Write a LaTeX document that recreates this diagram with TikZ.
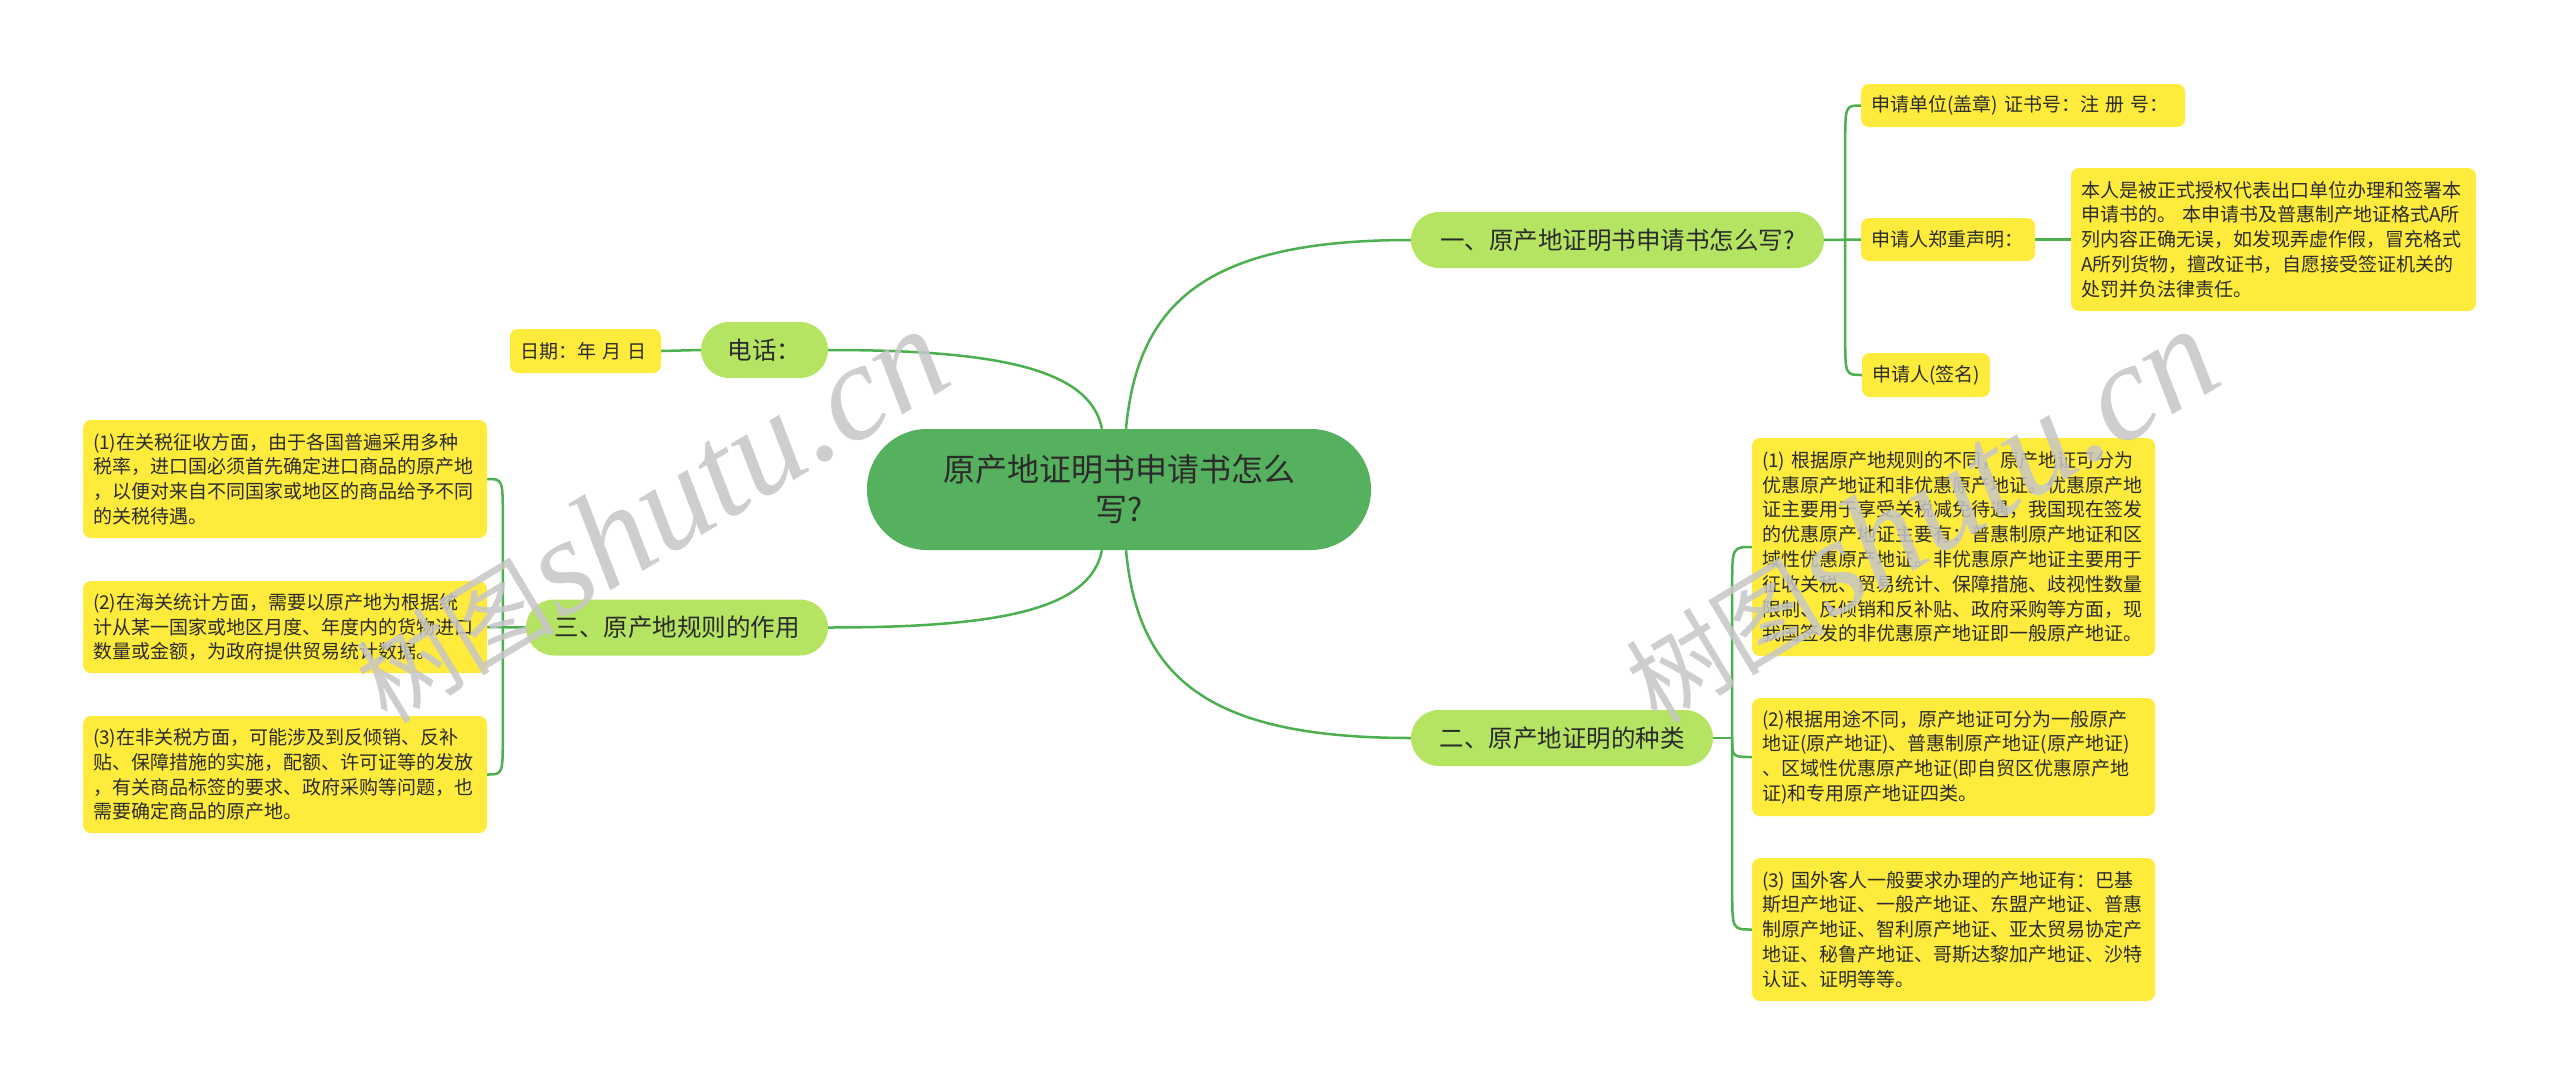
\documentclass[tikz,border=0pt]{standalone}
\usepackage{fontspec}
\setmainfont{Noto Sans CJK SC}
\newfontfamily\wmlatin{Liberation Serif Italic}
\usetikzlibrary{calc}
\definecolor{cgreen}{HTML}{55B15D}
\definecolor{bgreen}{HTML}{B5E462}
\definecolor{lyellow}{HTML}{FFEB3B}
\definecolor{lnk}{HTML}{4CAF50}
\definecolor{txt}{HTML}{2B2B2B}
\definecolor{wmgray}{HTML}{C6C6C6}
\pgfdeclarelayer{back}
\pgfdeclarelayer{bg}
\pgfsetlayers{back,bg,main}
\begin{document}
\begin{tikzpicture}[x=1pt,y=-1pt,
  centernode/.style={fill=cgreen, rounded corners=60pt, minimum width=504pt, minimum height=121pt, align=center, font=\fontsize{32}{40}\selectfont, text=txt, inner sep=0pt},
  branchnode/.style={fill=bgreen, rounded corners=28pt, minimum height=56pt, font=\fontsize{24.5}{30}\selectfont, text=txt, inner sep=0pt},
  leafnode/.style={fill=lyellow, rounded corners=8pt, align=left, font=\fontsize{19}{24.8}\selectfont, text=txt, inner xsep=10pt, inner ysep=0pt},
  conn/.style={draw=lnk, line width=2.5pt},
  wmark/.style={rotate=31, text=wmgray, text opacity=0.85, inner sep=0pt},
]
\begin{pgfonlayer}{back}
\fill[white] (0,0) rectangle (2560,1084);
\end{pgfonlayer}
\useasboundingbox (0,0) rectangle (2560,1084);

% central and main branches
\node[centernode] (c) at (1119,489.5) {原产地证明书申请书怎么\\写?};
\node[branchnode, minimum width=413pt] (b1) at (1617.5,240) {一、原产地证明书申请书怎么写?};
\node[branchnode, minimum width=302pt] (b2) at (1562,738) {二、原产地证明的种类};
\node[branchnode, minimum width=302pt] (b3) at (677,627.5) {三、原产地规则的作用};
\node[branchnode, minimum width=127pt] (b4) at (764.5,350) {电话：};

% leaves
\node[leafnode, text width=131pt, minimum height=44pt] (d) at (585.5,351) {日期：年 月 日};

\node[leafnode, text width=304pt, minimum height=43pt] (r1a) at (2023,105.5) {申请单位(盖章) 证书号：注 册 号：};
\node[leafnode, text width=154pt, minimum height=43pt] (r1b) at (1948,239.5) {申请人郑重声明：};
\node[leafnode, text width=385pt, minimum height=143pt] (r1c) at (2273.5,239.5) {本人是被正式授权代表出口单位办理和签署本\\申请书的。 本申请书及普惠制产地证格式A所\\列内容正确无误，如发现弄虚作假，冒充格式\\A所列货物，擅改证书，自愿接受签证机关的\\处罚并负法律责任。};
\node[leafnode, text width=108pt, minimum height=44pt] (r1d) at (1926,375) {申请人(签名)};

\node[leafnode, text width=383pt, minimum height=218pt] (r2a) at (1953.5,547) {(1) 根据原产地规则的不同，原产地证可分为\\优惠原产地证和非优惠原产地证。优惠原产地\\证主要用于享受关税减免待遇，我国现在签发\\的优惠原产地证主要有：普惠制原产地证和区\\域性优惠原产地证。非优惠原产地证主要用于\\征收关税、贸易统计、保障措施、歧视性数量\\限制、反倾销和反补贴、政府采购等方面，现\\我国签发的非优惠原产地证即一般原产地证。};
\node[leafnode, text width=383pt, minimum height=118pt] (r2b) at (1953.5,757) {(2)根据用途不同，原产地证可分为一般原产\\地证(原产地证)、普惠制原产地证(原产地证)\\、区域性优惠原产地证(即自贸区优惠原产地\\证)和专用原产地证四类。};
\node[leafnode, text width=383pt, minimum height=143pt] (r2c) at (1953.5,929.5) {(3) 国外客人一般要求办理的产地证有：巴基\\斯坦产地证、一般产地证、东盟产地证、普惠\\制原产地证、智利原产地证、亚太贸易协定产\\地证、秘鲁产地证、哥斯达黎加产地证、沙特\\认证、证明等等。};

\node[leafnode, text width=384pt, minimum height=118pt] (l3a) at (285,479) {(1)在关税征收方面，由于各国普遍采用多种\\税率，进口国必须首先确定进口商品的原产地\\，以便对来自不同国家或地区的商品给予不同\\的关税待遇。};
\node[leafnode, text width=384pt, minimum height=92pt] (l3b) at (285,627) {(2)在海关统计方面，需要以原产地为根据统\\计从某一国家或地区月度、年度内的货物进口\\数量或金额，为政府提供贸易统计数据。};
\node[leafnode, text width=384pt, minimum height=117pt] (l3c) at (285,774.5) {(3)在非关税方面，可能涉及到反倾销、反补\\贴、保障措施的实施，配额、许可证等的发放\\，有关商品标签的要求、政府采购等问题，也\\需要确定商品的原产地。};

\begin{pgfonlayer}{bg}
% center to branches
\draw[conn] ($(c.north)+(7,0)$) .. controls +(12,-130) and +(-200,0) .. (b1.west);
\draw[conn] ($(c.north)+(-17,0)$) .. controls +(-12,-60) and +(170,0) .. (b4.east);
\draw[conn] ($(c.south)+(-17,0)$) .. controls +(-12,60) and +(170,0) .. (b3.east);
\draw[conn] ($(c.south)+(7,0)$) .. controls +(12,130) and +(-200,0) .. (b2.west);
% branch 1
\coordinate (s1) at ($(b1.east)+(21,0)$);
\draw[conn] (b1.east) -- (r1b.west);
\draw[conn] (s1) -- ($(s1|-r1a.west)+(0,40)$) .. controls (s1|-r1a.west) .. (r1a.west);
\draw[conn] (s1) -- ($(s1|-r1d.west)+(0,-40)$) .. controls (s1|-r1d.west) .. (r1d.west);
\draw[conn] (r1b.east) -- (r1c.west);
% branch 2
\coordinate (s2) at ($(b2.east)+(19,0)$);
\draw[conn] (b2.east) -- (s2);
\draw[conn] (s2) -- ($(s2|-r2a.west)+(0,40)$) .. controls (s2|-r2a.west) .. (r2a.west);
\draw[conn] (s2) .. controls (s2|-r2b.west) .. (r2b.west);
\draw[conn] (s2) -- ($(s2|-r2c.west)+(0,-40)$) .. controls (s2|-r2c.west) .. (r2c.west);
% branch 3
\coordinate (s3) at ($(b3.west)+(-23,0)$);
\draw[conn] (b3.west) -- (l3b.east);
\draw[conn] (s3) -- ($(s3|-l3a.east)+(0,40)$) .. controls (s3|-l3a.east) .. (l3a.east);
\draw[conn] (s3) -- ($(s3|-l3c.east)+(0,-40)$) .. controls (s3|-l3c.east) .. (l3c.east);
% branch 4
\draw[conn] (b4.west) -- (d.east);
\end{pgfonlayer}

% watermarks
\node[wmark] (wm1) at (650,516) {{\fontsize{100}{100}\selectfont 树图} {\wmlatin\fontsize{138}{138}\selectfont shutu.cn}};
\node[wmark] (wm2) at (1920,516) {{\fontsize{100}{100}\selectfont 树图} {\wmlatin\fontsize{138}{138}\selectfont shutu.cn}};
\end{tikzpicture}
\end{document}
